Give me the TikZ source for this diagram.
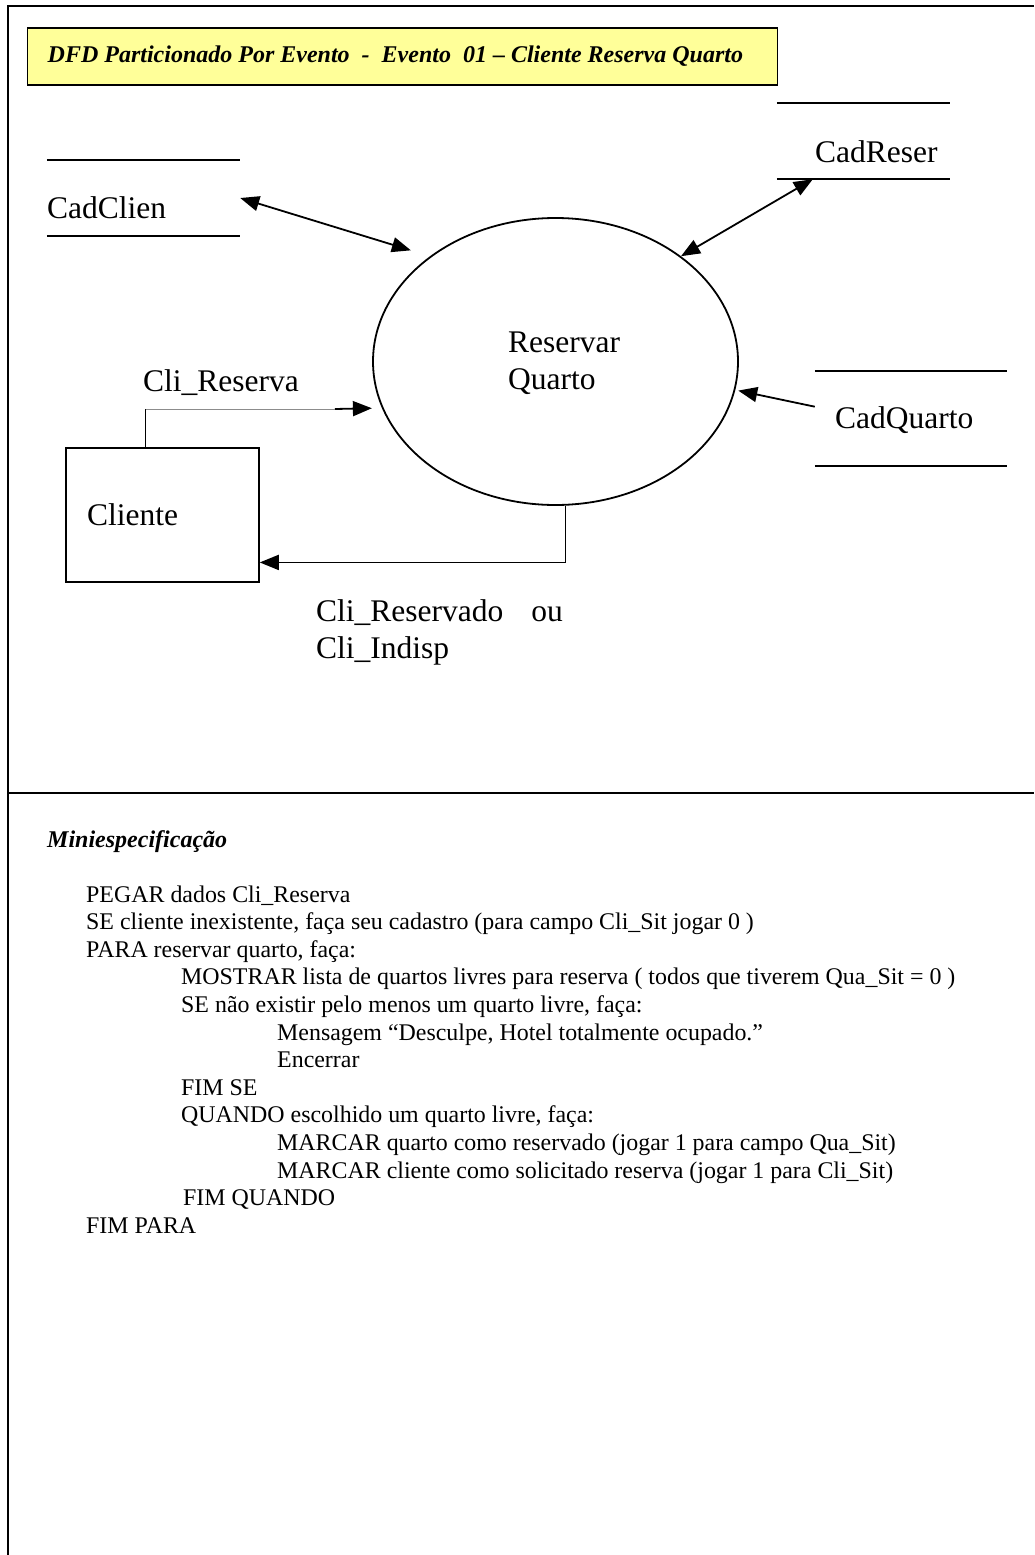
\documentclass[tikz,border=0pt]{standalone}
\usepackage{fontspec}
\setmainfont{Liberation Serif}
\usetikzlibrary{arrows.meta,shapes.geometric,calc}
\definecolor{notepaper}{HTML}{FFFF99}
\begin{document}
\begin{tikzpicture}[x=1pt,y=-1pt,
  tip/.tip={Triangle[length=19pt,width=15pt]},
  frameline/.style={line width=2.2pt},
  storeline/.style={line width=1.8pt},
  flow/.style={line width=1.8pt,-tip},
  dflow/.style={line width=1.8pt,tip-tip},
  store/.style={minimum width=#1,minimum height=76pt,inner sep=0pt},
  lbl/.style={font=\fontsize{31.5}{37}\selectfont,inner sep=0pt,anchor=base west,align=left},
  spec/.style={font=\fontsize{23.9}{27.6}\selectfont,inner sep=0pt,anchor=base west},
  titlebox/.style={draw,line width=1.4pt,fill=notepaper,minimum height=57pt,
    minimum width=750pt,inner xsep=20pt,inner ysep=0pt,anchor=west,
    font=\fontsize{24}{28}\selectfont\bfseries\itshape},
]
\useasboundingbox (0,0) rectangle (1034,1555);

% outer frame and section divider
\draw[frameline] (1034,6) -- (8,6) -- (8,1555);
\draw[frameline] (8,793) -- (1034,793);

% heading
\node[titlebox] (title) at (27,56.5)
  {\makebox[710pt][l]{DFD Particionado Por Evento\ \ -\ \ Evento\ \ 01 – Cliente Reserva Quarto}};

% process
\node[draw,ellipse,line width=1.8pt,minimum width=365pt,minimum height=287pt,inner sep=0pt]
  (proc) at (555.5,361.5) {};
\node[lbl] (proctxt) at (508,389) {Reservar\\Quarto};

% data stores
\node[store=193pt] (cadclien) at (143.5,198) {};
\draw[storeline] (cadclien.north west) -- (cadclien.north east);
\draw[storeline] (cadclien.south west) -- (cadclien.south east);
\node[lbl] (cadclientxt) at (47,218) {CadClien};

\node[store=173pt] (cadreser) at (863.5,141) {};
\draw[storeline] (cadreser.north west) -- (cadreser.north east);
\draw[storeline] (cadreser.south west) -- (cadreser.south east);
\node[lbl] (cadresertxt) at (815,162) {CadReser};

\node[store=192pt,minimum height=95pt] (cadquarto) at (911,418.5) {};
\draw[storeline] (cadquarto.north west) -- (cadquarto.north east);
\draw[storeline] (cadquarto.south west) -- (cadquarto.south east);
\node[lbl] (cadquartotxt) at (835,428) {CadQuarto};

% external entity
\node[draw,line width=1.5pt,minimum width=193pt,minimum height=134pt,inner sep=0pt]
  (cliente) at (162.5,515) {};
\node[lbl] (clientetxt) at (87,525) {Cliente};

% flows
\draw[dflow,shorten >=20pt] (cadclien.east) -- (proc.140);
\draw[dflow] (cadreser.-143.6) -- (proc.40);
\draw[flow,shorten >=3pt] (cadquarto.173) -- (proc.-9);

\coordinate (crjoin) at (335,409);
\draw[line width=1.2pt] (cliente.104) -- (cliente.104 |- crjoin);
\draw[line width=0.8pt,black!45] (cliente.104 |- crjoin) -- (crjoin);
\draw[flow,shorten >=10pt] (crjoin) -- (proc.195.4);
\node[lbl] (crlbl) at (143,391) {Cli\_Reserva};

\draw[flow] (proc.-86) |- (cliente.-26);
\node[lbl] (outlbl) at (316,658) {Cli\_Reservado\hspace{28pt}ou\\Cli\_Indisp};

% mini specification
\node[inner sep=0pt,anchor=base west,font=\fontsize{24}{28}\selectfont\bfseries\itshape]
  (minihead) at (47,847) {Miniespecificação};
\node[spec] (s01) at (86,902.0)  {PEGAR dados Cli\_Reserva};
\node[spec] (s02) at (86,929.6)  {SE cliente inexistente, faça seu cadastro (para campo Cli\_Sit jogar 0 )};
\node[spec] (s03) at (86,957.2)  {PARA reservar quarto, faça:};
\node[spec] (s04) at (181,984.8) {MOSTRAR lista de quartos livres para reserva ( todos que tiverem Qua\_Sit = 0 )};
\node[spec] (s05) at (181,1012.4) {SE não existir pelo menos um quarto livre, faça:};
\node[spec] (s06) at (277,1040.0) {Mensagem “Desculpe, Hotel totalmente ocupado.”};
\node[spec] (s07) at (277,1067.6) {Encerrar};
\node[spec] (s08) at (181,1095.2) {FIM SE};
\node[spec] (s09) at (181,1122.8) {QUANDO escolhido um quarto livre, faça:};
\node[spec] (s10) at (277,1150.4) {MARCAR quarto como reservado (jogar 1 para campo Qua\_Sit)};
\node[spec] (s11) at (277,1178.0) {MARCAR cliente como solicitado reserva (jogar 1 para Cli\_Sit)};
\node[spec] (s12) at (183,1205.6) {FIM QUANDO};
\node[spec] (s13) at (86,1233.2) {FIM PARA};
\end{tikzpicture}
\end{document}
